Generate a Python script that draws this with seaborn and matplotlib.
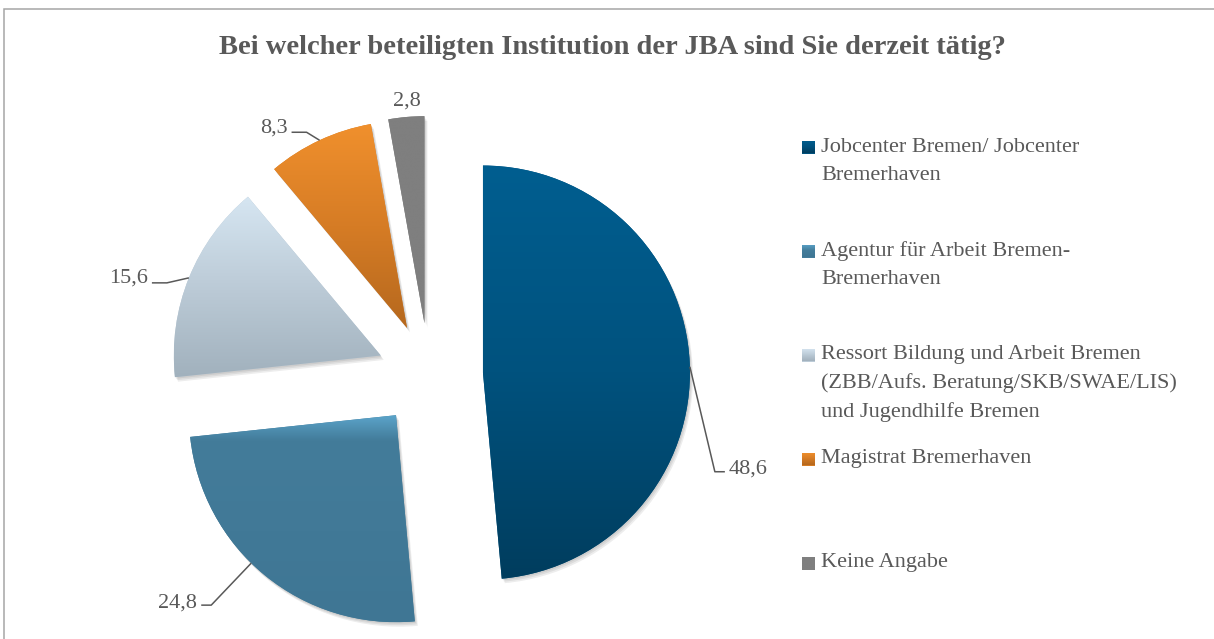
import numpy as np
import matplotlib
matplotlib.use("Agg")
import matplotlib.pyplot as plt
import matplotlib.patches as mpatches
from matplotlib.colors import to_rgb
import seaborn as sns

# ---------------- data ----------------
title = "Bei welcher beteiligten Institution der JBA sind Sie derzeit tätig?"
categories = [
    "Jobcenter Bremen/ Jobcenter Bremerhaven",
    "Agentur für Arbeit Bremen-Bremerhaven",
    "Ressort Bildung und Arbeit Bremen (ZBB/Aufs. Beratung/SKB/SWAE/LIS) und Jugendhilfe Bremen",
    "Magistrat Bremerhaven",
    "Keine Angabe",
]
legend_lines = [
    ["Jobcenter Bremen/ Jobcenter", "Bremerhaven"],
    ["Agentur für Arbeit Bremen-", "Bremerhaven"],
    ["Ressort Bildung und Arbeit Bremen", "(ZBB/Aufs. Beratung/SKB/SWAE/LIS)", "und Jugendhilfe Bremen"],
    ["Magistrat Bremerhaven"],
    ["Keine Angabe"],
]
values = [48.6, 24.8, 15.6, 8.3, 2.8]
value_labels = ["48,6", "24,8", "15,6", "8,3", "2,8"]

top_colors = ["#005e90", "#5ba4ca", "#d6e6f2", "#f0902d", "#7f7f7f"]
mid_colors = ["#00527e", "#437c9a", "#bccbd7", "#d67c25", "#7f7f7f"]
bottom_colors = ["#003d5e", "#3f7694", "#a1b1bd", "#b5681e", "#7f7f7f"]

# ---------------- layout ----------------
W, H = 1214, 639
sns.set_theme(style="white")
plt.rcParams["font.family"] = ["Liberation Serif", "DejaVu Serif"]
TXT = "#595959"

fig = plt.figure(figsize=(W / 100, H / 100), dpi=100)
ax = fig.add_axes([0, 0, 1, 1])
ax.set_xlim(0, W)
ax.set_ylim(0, H)
ax.axis("off")

def Y(y_img):
    return H - y_img

renderer = fig.canvas.get_renderer()

def fit(txt, target_w, size0):
    txt.set_fontsize(size0)
    w = txt.get_window_extent(renderer).width
    txt.set_fontsize(size0 * target_w / w)
    return size0 * target_w / w

# frame
ax.add_patch(mpatches.Rectangle((4, -20), W + 30, Y(9) + 20, fill=False,
                                edgecolor="#a6a6a6", lw=1.1, zorder=0))

# title
t = ax.text(612, Y(48), title, ha="center", va="center", color=TXT,
            fontweight="bold")
fit(t, 785, 18)

# pie
radius = 207
explode = [54, 52, 52, 52, 52]
wedges, _ = ax.pie(values, center=(429, Y(375)), radius=radius,
                   explode=explode, startangle=90, counterclock=False,
                   colors=mid_colors, wedgeprops=dict(linewidth=0))

def gradient_img(c_top, c_mid, c_bot, n=256, mid_pos=0.5):
    a = np.array(to_rgb(c_top)); b = np.array(to_rgb(c_mid)); c = np.array(to_rgb(c_bot))
    s = np.linspace(0, 1, n)
    out = np.zeros((n, 1, 3))
    for i, v in enumerate(s):
        if v < mid_pos:
            f = v / mid_pos
            out[i, 0] = a * (1 - f) + b * f
        else:
            f = (v - mid_pos) / (1 - mid_pos)
            out[i, 0] = b * (1 - f) + c * f
    return out

mid_positions = [0.5, 0.12, 0.5, 0.5, 0.5]
for i, w in enumerate(wedges):
    w.set_zorder(3)
    # soft shadow
    for k, (dx, dy) in enumerate([(1, -1.5), (2, -3), (3, -4.5)]):
        sh = mpatches.Wedge((w.center[0] + dx, w.center[1] + dy), w.r,
                            w.theta1, w.theta2, color="black", alpha=0.07,
                            lw=0, zorder=2)
        ax.add_patch(sh)
    ext = w.get_path().get_extents()
    img = ax.imshow(gradient_img(top_colors[i], mid_colors[i], bottom_colors[i],
                                 mid_pos=mid_positions[i]),
                    extent=(ext.x0, ext.x1, ext.y0, ext.y1), origin="upper",
                    aspect="auto", zorder=4, interpolation="bilinear")
    img.set_clip_path(w)

# data labels with leader lines (offsets relative to arc anchor)
anchor_delta = [-1, -5, 0, 0, 0]
leader = [
    [(25, -105), (35, -105)],
    [(-40, -42), (-50, -42)],
    [(-22, -5), (-37, -5)],
    [(-13, 8), (-28, 8)],
    None,
]
text_off = [(39, -102, "left"), (-54, -40, "right"), (-41, 0, "right"),
            (-32, 12, "right"), (1, 16, "center")]

# legend / label font size fitted on the widest legend line
tmp = ax.text(0, 0, "(ZBB/Aufs. Beratung/SKB/SWAE/LIS)")
lab_size = fit(tmp, 357, 16)
tmp.remove()

for i, w in enumerate(wedges):
    th = np.deg2rad((w.theta1 + w.theta2) / 2 + anchor_delta[i])
    ax0 = w.center[0] + w.r * np.cos(th)
    ay0 = w.center[1] + w.r * np.sin(th)
    if leader[i] is not None:
        xs = [ax0] + [ax0 + p[0] for p in leader[i]]
        ys = [ay0] + [ay0 + p[1] for p in leader[i]]
        ax.plot(xs, ys, color=TXT, lw=1.1, zorder=5, solid_capstyle="butt")
    ox, oy, ha = text_off[i]
    ax.text(ax0 + ox, ay0 + oy, value_labels[i], ha=ha, va="center",
            color=TXT, fontsize=lab_size, zorder=6)

# legend
leg_y = [147, 251, 355, 459, 563]
line_gap = 28.5
for i, lines in enumerate(legend_lines):
    yc = Y(leg_y[i])
    sq = mpatches.Rectangle((802, yc - 6.5), 13, 13, facecolor=mid_colors[i],
                            lw=0, zorder=3)
    ax.add_patch(sq)
    im = ax.imshow(gradient_img(top_colors[i], mid_colors[i], bottom_colors[i]),
                   extent=(802, 815, yc - 6.5, yc + 6.5), origin="upper",
                   aspect="auto", zorder=4)
    im.set_clip_path(sq)
    for j, ln in enumerate(lines):
        ax.text(821, yc - j * line_gap, ln, ha="left", va="center",
                color=TXT, fontsize=lab_size)

ax.set_xlim(0, W)
ax.set_ylim(0, H)
fig.savefig("out.png", dpi=100, facecolor="white")
